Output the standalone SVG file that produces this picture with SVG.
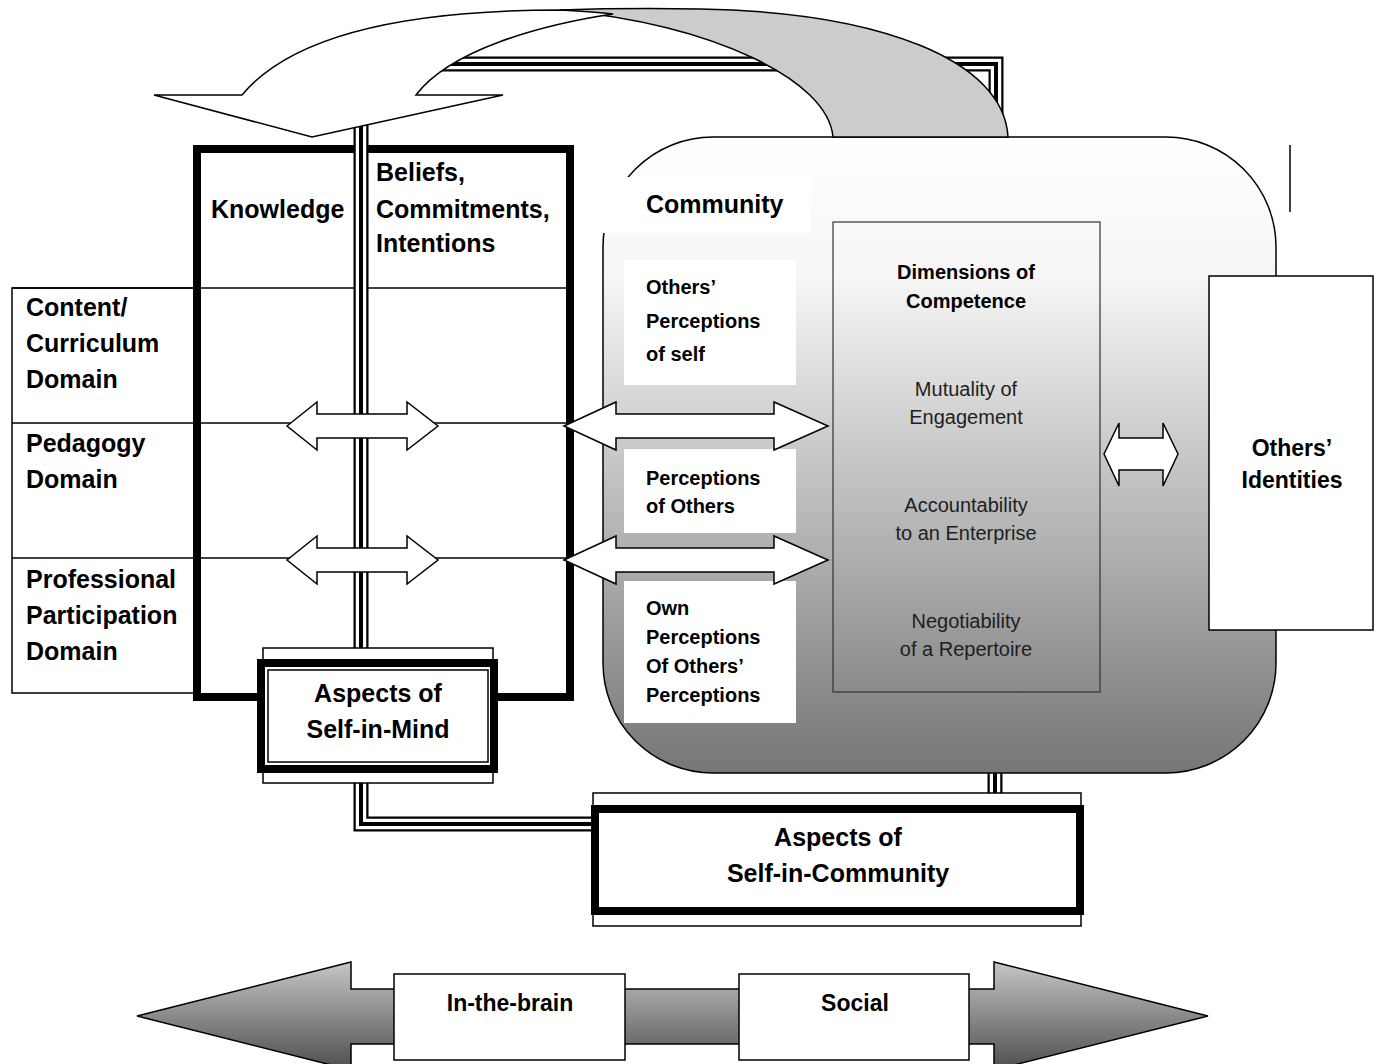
<svg xmlns="http://www.w3.org/2000/svg" width="1383" height="1064" viewBox="0 0 1383 1064">
<style>
text{font-family:"Liberation Sans",Arial,sans-serif;fill:#000}
.b25{font-size:25px;font-weight:bold}
.b20{font-size:20px;font-weight:bold}
.b23{font-size:23px;font-weight:bold}
.r20{font-size:20px;fill:#1e1e1e}
.mid{text-anchor:middle}
.thin{fill:none;stroke:#000;stroke-width:1.5}
.wbox{fill:#fff;stroke:#000;stroke-width:1.5}
.thick{fill:#fff;stroke:#000;stroke-width:8}
.lbl{fill:#fff;stroke:none}
.dar{fill:#fff;stroke:#000;stroke-width:1.5;stroke-linejoin:miter}
.k1{fill:none;stroke:#000;stroke-width:15;stroke-linejoin:miter}
.k2{fill:none;stroke:#fff;stroke-width:10.5;stroke-linejoin:miter}
.k3{fill:none;stroke:#000;stroke-width:4;stroke-linejoin:miter}
</style>
<defs>
<linearGradient id="gComm" gradientUnits="userSpaceOnUse" x1="0" y1="137" x2="0" y2="773">
<stop offset="0" stop-color="#ffffff"/>
<stop offset="0.22" stop-color="#f6f6f6"/>
<stop offset="1" stop-color="#767676"/>
</linearGradient>
<linearGradient id="gBot" gradientUnits="userSpaceOnUse" x1="0" y1="962" x2="0" y2="1070">
<stop offset="0" stop-color="#c6c6c6"/>
<stop offset="1" stop-color="#4e4e4e"/>
</linearGradient>
<path id="p1" d="M361,655 V64 H996 V140"/>
<path id="p2" d="M361,780 V824 H597"/>
<path id="p3" d="M995,770 V797"/>
</defs>

<g id="mind-column">
<rect x="12" y="288" width="185" height="405" class="thin"/>
<line x1="12" y1="288" x2="568" y2="288" class="thin"/>
<line x1="12" y1="423" x2="568" y2="423" class="thin"/>
<line x1="12" y1="558" x2="568" y2="558" class="thin"/>
<rect x="197" y="149" width="373" height="548" fill="none" stroke="#000" stroke-width="8"/>
<text class="b25" x="211" y="218">Knowledge</text>
<text class="b25" x="376" y="181">Beliefs,</text>
<text class="b25" x="376" y="218">Commitments,</text>
<text class="b25" x="376" y="252">Intentions</text>
</g>
<g id="domain-content">
<text class="b25" x="26" y="316">Content/</text>
<text class="b25" x="26" y="352">Curriculum</text>
<text class="b25" x="26" y="388">Domain</text>
</g>
<g id="domain-pedagogy">
<text class="b25" x="26" y="452">Pedagogy</text>
<text class="b25" x="26" y="488">Domain</text>
</g>
<g id="domain-professional">
<text class="b25" x="26" y="588">Professional</text>
<text class="b25" x="26" y="624">Participation</text>
<text class="b25" x="26" y="660">Domain</text>
</g>

<g id="connectors">
<use href="#p1" class="k1"/><use href="#p1" class="k2"/><use href="#p1" class="k3"/>
<use href="#p2" class="k1"/><use href="#p2" class="k2"/><use href="#p2" class="k3"/>
<use href="#p3" class="k1"/><use href="#p3" class="k2"/><use href="#p3" class="k3"/>
<line x1="1290" y1="145" x2="1290" y2="212" stroke="#000" stroke-width="1.5"/>
</g>

<g id="community">
<rect x="603" y="137" width="673" height="636" rx="110" ry="110" fill="url(#gComm)" stroke="#000" stroke-width="1.5"/>
<rect x="598" y="177" width="213" height="56" class="lbl"/>
<text class="b25" x="646" y="213">Community</text>
</g>
<g id="others-perceptions-of-self">
<rect x="624" y="260" width="172" height="125" class="lbl"/>
<text class="b20" x="646" y="294">Others’</text>
<text class="b20" x="646" y="328">Perceptions</text>
<text class="b20" x="646" y="361">of self</text>
</g>
<g id="perceptions-of-others">
<rect x="624" y="449" width="172" height="84" class="lbl"/>
<text class="b20" x="646" y="485">Perceptions</text>
<text class="b20" x="646" y="513">of Others</text>
</g>
<g id="own-perceptions">
<rect x="624" y="581" width="172" height="142" class="lbl"/>
<text class="b20" x="646" y="615">Own</text>
<text class="b20" x="646" y="644">Perceptions</text>
<text class="b20" x="646" y="673">Of Others’</text>
<text class="b20" x="646" y="702">Perceptions</text>
</g>
<g id="dimensions">
<rect x="833" y="222" width="267" height="470" fill="none" stroke="#333" stroke-width="1.2"/>
<text class="b20 mid" x="966" y="279">Dimensions of</text>
<text class="b20 mid" x="966" y="308">Competence</text>
<text class="r20 mid" x="966" y="396">Mutuality of</text>
<text class="r20 mid" x="966" y="424">Engagement</text>
<text class="r20 mid" x="966" y="512">Accountability</text>
<text class="r20 mid" x="966" y="540">to an Enterprise</text>
<text class="r20 mid" x="966" y="628">Negotiability</text>
<text class="r20 mid" x="966" y="656">of a Repertoire</text>
</g>
<g id="others-identities">
<rect x="1209" y="276" width="164" height="354" class="wbox"/>
<text class="b23 mid" x="1292" y="456">Others’</text>
<text class="b23 mid" x="1292" y="488">Identities</text>
</g>

<g id="double-arrows">
<path class="dar" d="M287,426 L317,402 L317,414 L407,414 L407,402 L438,426 L407,450 L407,438 L317,438 L317,450 Z"/>
<path class="dar" d="M287,560 L317,536 L317,548 L407,548 L407,536 L438,560 L407,584 L407,572 L317,572 L317,584 Z"/>
<path class="dar" d="M564,426 L616,402 L616,414 L774,414 L774,402 L828,426 L774,450 L774,438 L616,438 L616,450 Z"/>
<path class="dar" d="M564,560 L616,536 L616,548 L774,548 L774,536 L828,560 L774,584 L774,572 L616,572 L616,584 Z"/>
<path class="dar" d="M1104,454 L1119,423 L1119,438 L1163,438 L1163,423 L1178,454 L1163,486 L1163,470 L1119,470 L1119,486 Z"/>
</g>

<g id="self-in-mind">
<rect x="263" y="648" width="230" height="135" class="wbox"/>
<rect x="261" y="663" width="233" height="106" class="thick"/>
<rect x="268" y="670" width="220" height="92" class="thin"/>
<text class="b25 mid" x="378" y="702">Aspects of</text>
<text class="b25 mid" x="378" y="738">Self-in-Mind</text>
</g>
<g id="self-in-community">
<rect x="593" y="793" width="488" height="133" class="wbox"/>
<rect x="595" y="809" width="485" height="102" class="thick"/>
<text class="b25 mid" x="838" y="846">Aspects of</text>
<text class="b25 mid" x="838" y="882">Self-in-Community</text>
</g>

<g id="curved-arrow">
<path d="M560,10 C715,25 828,80 833,137 L1008,137 C1004,60 880,12 700,9 C640,8 590,9 560,10 Z" fill="#cccccc" stroke="#000" stroke-width="1.5"/>
<path d="M154,95 L242,95 C300,25 440,10 560,10 C580,11 598,12 613,14 C540,25 450,50 416,95 L503,95 L312,137 Z" fill="#fff" stroke="#000" stroke-width="1.5" stroke-linejoin="miter"/>
</g>

<g id="spectrum">
<path d="M137,1016 L351,962 L351,989 L994,989 L994,962 L1208,1016 L994,1070 L994,1044 L351,1044 L351,1070 Z" fill="url(#gBot)" stroke="#000" stroke-width="1.5"/>
</g>
<g id="in-the-brain">
<rect x="394" y="974" width="231" height="86" class="wbox"/>
<text class="b23 mid" x="510" y="1011">In-the-brain</text>
</g>
<g id="social">
<rect x="739" y="974" width="230" height="86" class="wbox"/>
<text class="b23 mid" x="855" y="1011">Social</text>
</g>
</svg>
